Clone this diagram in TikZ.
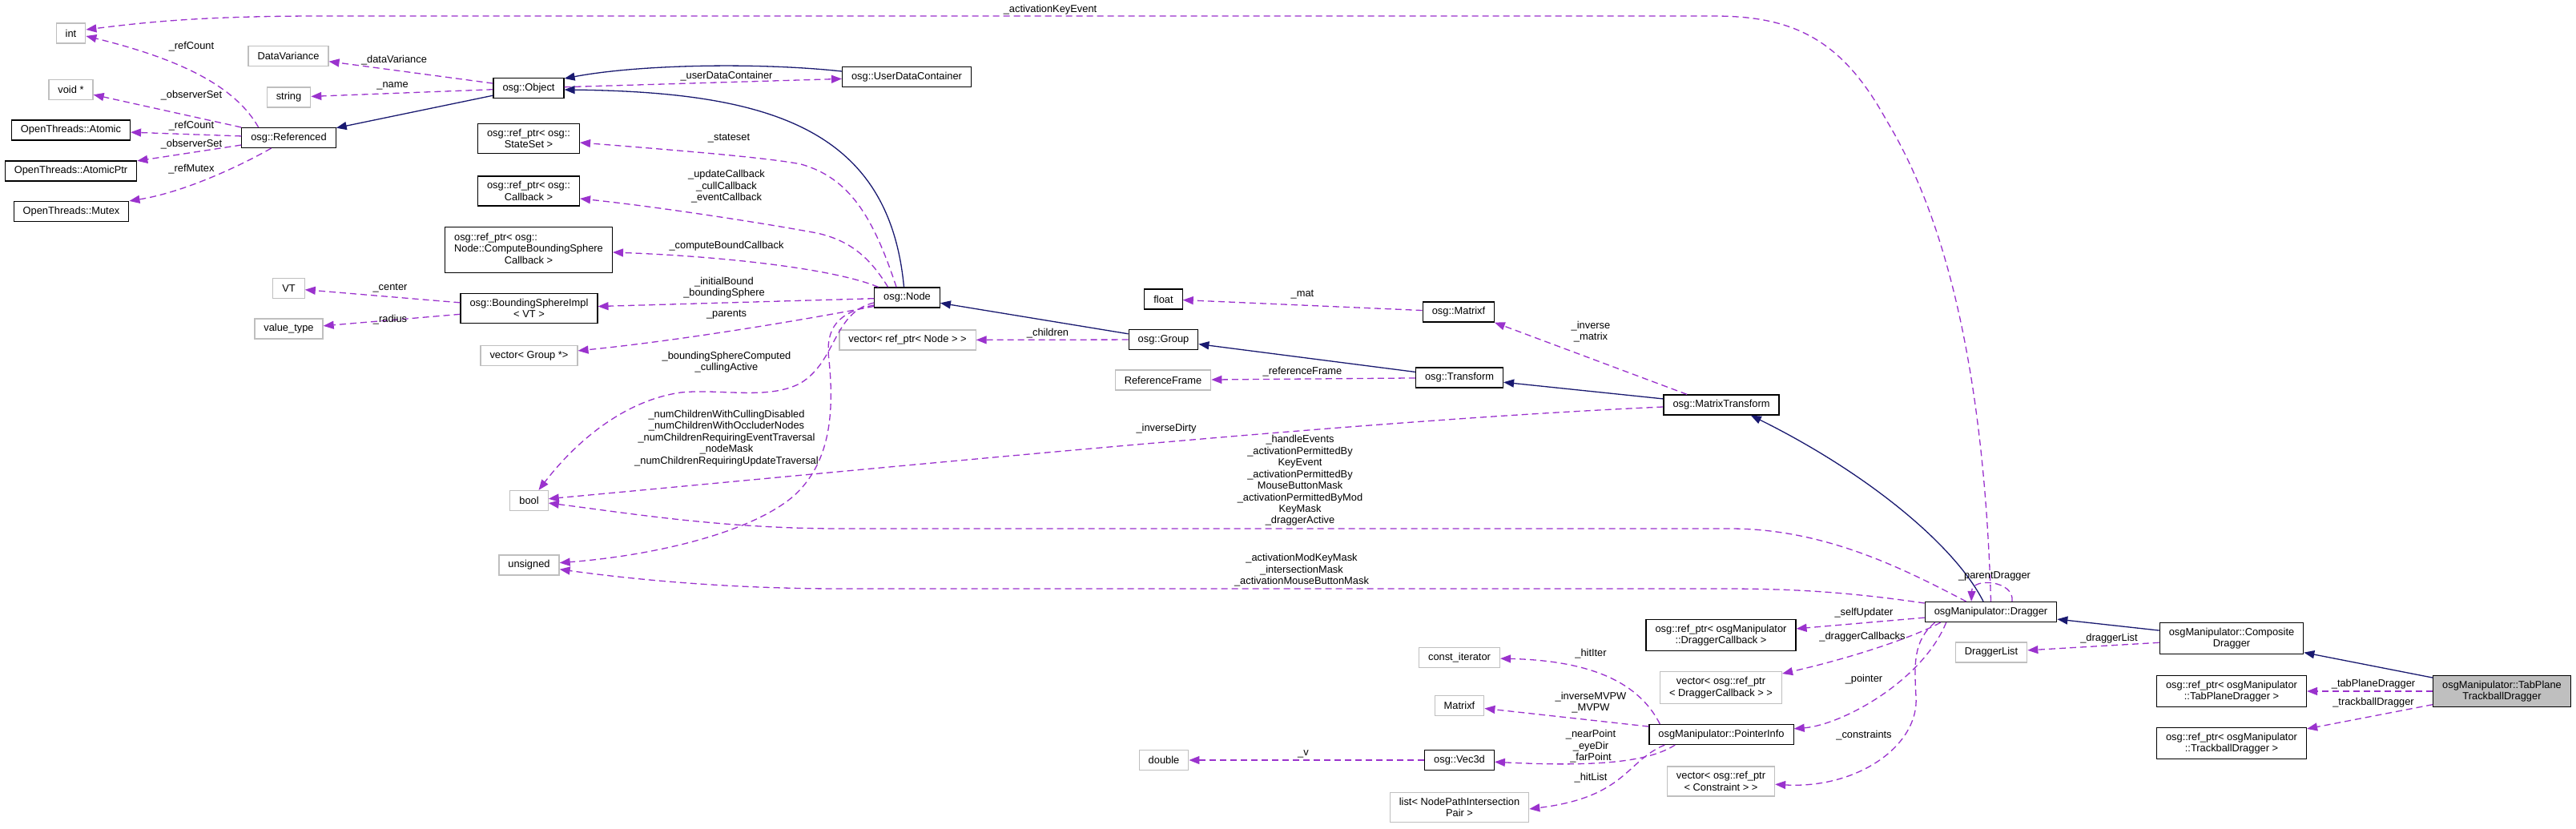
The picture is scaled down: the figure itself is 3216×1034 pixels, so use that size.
\documentclass[tikz,border=0pt]{standalone}
\usepackage{fontspec}
\setmainfont{Liberation Sans}
\usepackage{xcolor}
\usepackage{tikz}
\usetikzlibrary{arrows.meta}
\definecolor{edgeblue}{HTML}{191970}
\definecolor{edgepurple}{HTML}{9A32CD}
\definecolor{boxgray}{HTML}{BFBFBF}
\newcommand{\dfont}{\fontsize{12.9}{14.5}\selectfont}

\begin{document}
\begin{tikzpicture}[x=1bp,y=-1bp,
  cls/.style={draw=black, line width=1.2bp, fill=white, font=\dfont, align=center,
    inner xsep=11.5bp, inner ysep=6.5bp, minimum height=25bp},
  ext/.style={cls, draw=boxgray},
  main/.style={cls, fill=boxgray},
  inherit/.style={color=edgeblue, line width=1.3bp, -{Triangle[length=13bp,width=10bp]}},
  member/.style={color=edgepurple, line width=1.3bp, dash pattern=on 8bp off 5bp,
    -{Triangle[length=13bp,width=10bp]}},
  lbl/.style={font=\dfont, align=center, inner sep=0pt}]
\fill[white] (0,0) rectangle (3216,1034);
\useasboundingbox (0,0) rectangle (3216,1034);

% classes and member types
\node[ext] (Int) at (88.5,41.5) {int};
\node[ext] (VoidPtr) at (88.5,112) {void *};
\node[cls] (Atomic) at (88.5,162.5) {OpenThreads::Atomic};
\node[cls] (AtomicPtr) at (88.5,213.5) {OpenThreads::AtomicPtr};
\node[cls] (Mutex) at (89,264) {OpenThreads::Mutex};
\node[cls] (Referenced) at (360.5,172) {osg::Referenced};
\node[ext] (DataVariance) at (360,70) {DataVariance};
\node[ext] (String) at (360.5,121.5) {string};
\node[cls] (Object) at (660,110) {osg::Object};
\node[cls] (UserData) at (1132,96) {osg::UserDataContainer};
\node[cls] (StateSetPtr) at (660,173) {osg::ref\_ptr< osg::\\StateSet >};
\node[cls] (CallbackPtr) at (660,238.5) {osg::ref\_ptr< osg::\\Callback >};
\node[cls] (ComputeBSPtr) at (660,312) {\begin{tabular}{@{}l@{}}osg::ref\_ptr< osg::\\Node::ComputeBoundingSphere\\\multicolumn{1}{@{}c@{}}{Callback >}\end{tabular}};
\node[ext] (VT) at (360.5,360) {VT};
\node[cls] (BSImpl) at (660.5,385) {osg::BoundingSphereImpl\\< VT >};
\node[ext] (ValueType) at (360.5,410.5) {value\_type};
\node[ext] (GroupVec) at (660.5,444) {vector< Group *>};
\node[cls] (Node) at (1132.5,371.5) {osg::Node};
\node[ext] (NodeVec) at (1133,424.5) {vector< ref\_ptr< Node > >};
\node[cls] (Group) at (1452.5,424) {osg::Group};
\node[cls] (Float) at (1452.5,373.5) {float};
\node[ext] (RefFrame) at (1452,474.5) {ReferenceFrame};
\node[cls] (Matrixf) at (1821,389.5) {osg::Matrixf};
\node[cls] (Transform) at (1822,471.5) {osg::Transform};
\node[cls] (MatrixTransform) at (2149,505.5) {osg::MatrixTransform};
\node[ext] (Bool) at (660.5,625) {bool};
\node[ext] (Unsigned) at (660.5,705.5) {unsigned};
\node[cls] (Dragger) at (2485.5,764) {osgManipulator::Dragger};
\node[cls] (DCallbackPtr) at (2148.5,793) {osg::ref\_ptr< osgManipulator\\::DraggerCallback >};
\node[ext] (ConstIter) at (1822,821) {const\_iterator};
\node[ext] (DCallbackVec) at (2148.5,858.5) {vector< osg::ref\_ptr\\< DraggerCallback > >};
\node[ext] (MatrixfType) at (1822,881) {Matrixf};
\node[cls] (PointerInfo) at (2149,917) {osgManipulator::PointerInfo};
\node[cls] (Vec3d) at (1822,949) {osg::Vec3d};
\node[ext] (ConstraintVec) at (2148.5,975.5) {vector< osg::ref\_ptr\\< Constraint > >};
\node[ext] (HitList) at (1822,1008) {list< NodePathIntersection\\Pair >};
\node[ext] (Double) at (1453,949) {double};
\node[ext] (DraggerList) at (2486,814.5) {DraggerList};
\node[cls] (Composite) at (2786,797) {osgManipulator::Composite\\Dragger};
\node[cls] (TabPlanePtr) at (2786,863) {osg::ref\_ptr< osgManipulator\\::TabPlaneDragger >};
\node[cls] (TrackballPtr) at (2786,928) {osg::ref\_ptr< osgManipulator\\::TrackballDragger >};
\node[main] (TabPlaneTrackball) at (3123.5,863) {osgManipulator::TabPlane\\TrackballDragger};

% inheritance
\draw[inherit] (Object) -- (Referenced);
\draw[inherit] ([yshift=7]UserData.west) .. controls (950,78) and (800,80) .. ([yshift=12]Object.east);
\draw[inherit] ([xshift=-4]Node.north) .. controls (1110,160) and (960,115) .. ([yshift=-2]Object.east);
\draw[inherit] (Group) -- (Node);
\draw[inherit] (Transform) -- (Group);
\draw[inherit] (MatrixTransform) -- (Transform);
\draw[inherit] ([xshift=-9.5]Dragger.north) .. controls (2440,680) and (2330,590) .. ([xshift=37]MatrixTransform.south);
\draw[inherit] (Composite) -- (Dragger);
\draw[inherit] (TabPlaneTrackball) -- (Composite);

% members
\draw[member] ([xshift=-38]Referenced.north) .. controls (295,110) and (230,75) .. ([yshift=-3.5]Int.east);
\draw[member] (Referenced) -- (VoidPtr);
\draw[member] (Referenced) -- (Atomic);
\draw[member] (Referenced) -- (AtomicPtr);
\draw[member] ([xshift=-22]Referenced.south) .. controls (300,207) and (230,240) .. (Mutex.north east);
\draw[member] (Object) -- (DataVariance);
\draw[member] (Object) -- (String);
\draw[member] (Object) -- (UserData);
\draw[member] (Dragger.north) .. controls (2478,500) and (2440,290) .. (2355,150)
  .. controls (2300,50) and (2240,20) .. (2140,20) -- (400,20)
  .. controls (250,20) and (180,28) .. ([yshift=4.5]Int.east);
\draw[member] ([xshift=-13.5]Node.north) .. controls (1090,270) and (1060,222) .. (1000,205)
  .. controls (960,197) and (850,188) .. ([yshift=-5]StateSetPtr.east);
\draw[member] ([xshift=-24]Node.north) .. controls (1085,320) and (1060,300) .. (1020,291)
  .. controls (950,278) and (820,258) .. ([yshift=-9.5]CallbackPtr.east);
\draw[member] ([xshift=-36]Node.north) .. controls (1040,335) and (900,320) .. ([yshift=-3]ComputeBSPtr.east);
\draw[member] (Node) -- (BSImpl);
\draw[member] ([yshift=-11]Node.west) .. controls (1000,400) and (850,425) .. (GroupVec);
\draw[member] ([yshift=-6.5]Node.west) .. controls (1040,390) and (1045,450) .. (1000,478)
  .. controls (960,500) and (900,485) .. (850,490)
  .. controls (780,500) and (720,550) .. ([xshift=12]Bool.north);
\draw[member] ([yshift=-9.5]Node.west) .. controls (1045,390) and (1030,410) .. (1035,450)
  .. controls (1042,520) and (1035,580) .. (990,620)
  .. controls (930,670) and (800,695) .. (Unsigned);
\draw[member] (BSImpl) -- (VT);
\draw[member] (BSImpl) -- (ValueType);
\draw[member] (Group) -- (NodeVec);
\draw[member] (Matrixf) -- (Float);
\draw[member] (Transform) -- (RefFrame);
\draw[member] ([xshift=-43]MatrixTransform.north) -- ([xshift=45]Matrixf.south);
\draw[member] ([yshift=-2.5]MatrixTransform.west) .. controls (1700,525) and (1200,575) .. (Bool);
\draw[member] ([xshift=-31]Dragger.north) .. controls (2380,712) and (2280,660) .. (2160,660) -- (1050,660)
  .. controls (900,660) and (780,640) .. (Bool);
\draw[member] ([yshift=11]Dragger.west) .. controls (2300,738) and (2230,735) .. (2150,735) -- (1050,735)
  .. controls (900,735) and (780,722) .. (Unsigned);
\draw[member] ([xshift=26.5]Dragger.north) .. controls (2516,725) and (2462,720) .. ([xshift=-24.5]Dragger.north);
\draw[member] (Dragger) -- (DCallbackPtr);
\draw[member] ([xshift=-63]Dragger.south) .. controls (2400,790) and (2330,817) .. (DCallbackVec);
\draw[member] ([xshift=-56]Dragger.south) .. controls (2400,850) and (2300,905) .. (PointerInfo);
\draw[member] ([xshift=-70]Dragger.south) .. controls (2388,800) and (2390,830) .. (2392,870)
  .. controls (2396,930) and (2320,985) .. (ConstraintVec);
\draw[member] ([xshift=-77]PointerInfo.north) .. controls (2050,860) and (2000,825) .. (ConstIter);
\draw[member] (PointerInfo) -- (MatrixfType);
\draw[member] ([xshift=-58]PointerInfo.south) .. controls (2060,950) and (2000,958) .. (Vec3d);
\draw[member] ([xshift=-71]PointerInfo.south) .. controls (2030,950) and (2030,995) .. ([yshift=-2]HitList.east);
\draw[member] (Vec3d) -- (Double);
\draw[member] (Composite) -- (DraggerList);
\draw[member] (TabPlaneTrackball) -- (TabPlanePtr);
\draw[member] (TabPlaneTrackball) -- (TrackballPtr);

% member labels
\node[lbl] (lRefCountInt) at (239,58) {\_refCount};
\node[lbl] (lObsVoid) at (239,119) {\_observerSet};
\node[lbl] (lRefCountAtomic) at (239,157) {\_refCount};
\node[lbl] (lObsAtomicPtr) at (239,180) {\_observerSet};
\node[lbl] (lRefMutex) at (239,211) {\_refMutex};
\node[lbl] (lDataVariance) at (492,75) {\_dataVariance};
\node[lbl] (lName) at (490,107) {\_name};
\node[lbl] (lUserData) at (907,95) {\_userDataContainer};
\node[lbl] (lKeyEvent) at (1311,12) {\_activationKeyEvent};
\node[lbl] (lStateSet) at (910,173) {\_stateset};
\node[lbl] (lCallbacks) at (907,233) {\_updateCallback\\\_cullCallback\\\_eventCallback};
\node[lbl] (lComputeBound) at (907,307) {\_computeBoundCallback};
\node[lbl] (lBound) at (904,359) {\_initialBound\\\_boundingSphere};
\node[lbl] (lParents) at (907,393) {\_parents};
\node[lbl] (lCenter) at (487,360) {\_center};
\node[lbl] (lRadius) at (487,399) {\_radius};
\node[lbl] (lNodeBool) at (907,452) {\_boundingSphereComputed\\\_cullingActive};
\node[lbl] (lNodeUnsigned) at (907,547) {\_numChildrenWithCullingDisabled\\\_numChildrenWithOccluderNodes\\\_numChildrenRequiringEventTraversal\\\_nodeMask\\\_numChildrenRequiringUpdateTraversal};
\node[lbl] (lChildren) at (1308,416) {\_children};
\node[lbl] (lMat) at (1626,368) {\_mat};
\node[lbl] (lRefFrame) at (1626,464) {\_referenceFrame};
\node[lbl] (lInverse) at (1986,414) {\_inverse\\\_matrix};
\node[lbl] (lInverseDirty) at (1456,535) {\_inverseDirty};
\node[lbl] (lDraggerBool) at (1623,600) {\_handleEvents\\\_activationPermittedBy\\KeyEvent\\\_activationPermittedBy\\MouseButtonMask\\\_activationPermittedByMod\\KeyMask\\\_draggerActive};
\node[lbl] (lDraggerUnsigned) at (1625,712) {\_activationModKeyMask\\\_intersectionMask\\\_activationMouseButtonMask};
\node[lbl] (lParentDragger) at (2490,719) {\_parentDragger};
\node[lbl] (lSelfUpdater) at (2327,765) {\_selfUpdater};
\node[lbl] (lDraggerCallbacks) at (2325,795) {\_draggerCallbacks};
\node[lbl] (lPointer) at (2327,848) {\_pointer};
\node[lbl] (lConstraints) at (2327,918) {\_constraints};
\node[lbl] (lHitIter) at (1986,816) {\_hitIter};
\node[lbl] (lMVPW) at (1986,877) {\_inverseMVPW\\\_MVPW};
\node[lbl] (lPoints) at (1986,932) {\_nearPoint\\\_eyeDir\\\_farPoint};
\node[lbl] (lHitList) at (1986,971) {\_hitList};
\node[lbl] (lV) at (1627,941) {\_v};
\node[lbl] (lDraggerList) at (2633,797) {\_draggerList};
\node[lbl] (lTabPlane) at (2963,854) {\_tabPlaneDragger};
\node[lbl] (lTrackball) at (2963,877) {\_trackballDragger};
\end{tikzpicture}
\end{document}
